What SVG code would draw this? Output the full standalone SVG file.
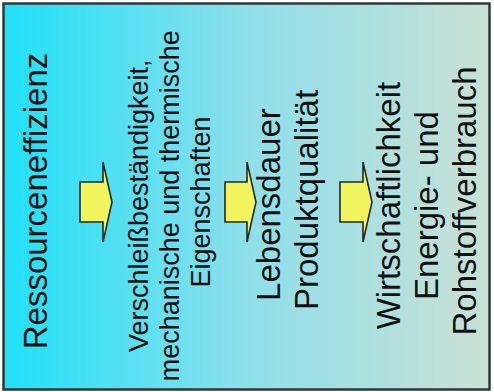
<svg xmlns="http://www.w3.org/2000/svg" width="494" height="392" viewBox="0 0 494 392">
  <defs>
    <linearGradient id="bg" x1="0" y1="0" x2="1" y2="0">
      <stop offset="0" stop-color="#1fe0f8"/>
      <stop offset="0.5" stop-color="#8edfea"/>
      <stop offset="1" stop-color="#cae1d5"/>
    </linearGradient>
  </defs>
  <style>
    text { font-family: "Liberation Sans", Arial, sans-serif; fill: #111; text-anchor: middle; }
    .big { font-size: 33px; }
    .mid { font-size: 27px; }
    .arrow { fill: #f1f45c; stroke: #1f2a2a; stroke-width: 1.6; stroke-linejoin: miter; }
  </style>

  <!-- panel -->
  <rect x="3.5" y="3.5" width="486" height="386" fill="url(#bg)" stroke="#2e3838" stroke-width="2.5"/>

  <!-- stages, written bottom to top -->
  <g id="ressourceneffizienz">
    <text class="big" transform="translate(47,201) rotate(-90)">Ressourceneffizienz</text>
  </g>

  <g id="eigenschaften">
    <text class="mid" transform="translate(148,202) rotate(-90)">
      <tspan x="0" dy="0">Verschleißbeständigkeit,</tspan>
      <tspan x="0" dy="31">mechanische und thermische</tspan>
      <tspan x="0" dy="31">Eigenschaften</tspan>
    </text>
  </g>

  <g id="lebensdauer">
    <text class="big" transform="translate(280,200) rotate(-90)">
      <tspan x="0" dy="0">Lebensdauer</tspan>
      <tspan x="0" dy="38">Produktqualität</tspan>
    </text>
  </g>

  <g id="wirtschaftlichkeit">
    <text class="big" transform="translate(400,201) rotate(-90)">
      <tspan x="0" dy="0">Wirtschaftlichkeit</tspan>
      <tspan x="0" dy="38">Energie- und</tspan>
      <tspan x="0" dy="38">Rohstoffverbrauch</tspan>
    </text>
  </g>

  <!-- block arrows between the stages -->
  <g id="connectors">
    <polygon class="arrow" points="80,182 103,182 103,162 112,202 103,242 103,222 80,222"/>
    <polygon class="arrow" points="225,182 247,182 247,162 256,202 247,242 247,222 225,222"/>
    <polygon class="arrow" points="340,182 363,182 363,162 372,202 363,242 363,222 340,222"/>
  </g>
</svg>
